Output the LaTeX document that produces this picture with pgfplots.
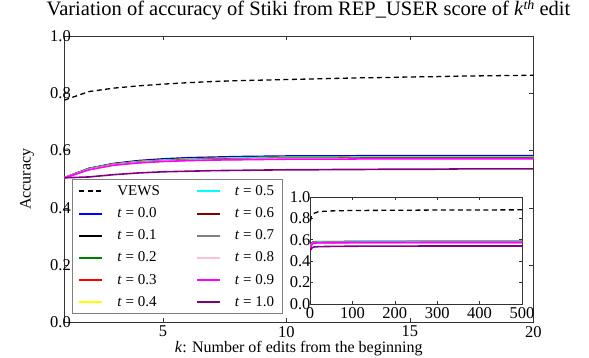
\documentclass[border=0pt]{standalone}
\usepackage{fontspec}
\setmainfont{Liberation Serif}
\usepackage{pgfplots}
\usepackage{pgfplotstable}
\pgfplotsset{compat=1.18}

\definecolor{mblue}{rgb}{0,0,1}
\definecolor{mgreen}{rgb}{0,0.5,0}
\definecolor{mred}{rgb}{1,0,0}
\definecolor{myellow}{rgb}{1,1,0}
\definecolor{mcyan}{rgb}{0,1,1}
\definecolor{mmaroon}{rgb}{0.5,0,0}
\definecolor{mgray}{rgb}{0.5,0.5,0.5}
\definecolor{mpink}{rgb}{1,0.75,0.8}
\definecolor{mmagenta}{rgb}{1,0,1}
\definecolor{mpurple}{rgb}{0.5,0,0.5}

% accuracy for k = 1..20
\pgfplotstableread{
k  vews  ta    tb    tc    td    te    tf    tg    th    ti    tj    tk
1  0.776 0.505 0.505 0.505 0.505 0.505 0.505 0.505 0.505 0.505 0.505 0.505
2  0.806 0.538 0.537 0.537 0.536 0.536 0.536 0.535 0.535 0.534 0.533 0.508
3  0.818 0.555 0.553 0.553 0.553 0.552 0.552 0.551 0.551 0.550 0.549 0.516
4  0.826 0.565 0.563 0.562 0.562 0.561 0.561 0.559 0.559 0.558 0.557 0.522
5  0.832 0.571 0.568 0.567 0.567 0.566 0.566 0.564 0.564 0.563 0.562 0.526
6  0.837 0.575 0.572 0.571 0.571 0.570 0.570 0.568 0.567 0.566 0.565 0.528
7  0.841 0.577 0.574 0.573 0.573 0.572 0.572 0.570 0.569 0.568 0.567 0.530
8  0.844 0.579 0.576 0.575 0.575 0.574 0.574 0.571 0.570 0.569 0.568 0.531
9  0.846 0.580 0.577 0.576 0.576 0.575 0.575 0.572 0.571 0.570 0.569 0.532
10 0.848 0.581 0.578 0.577 0.577 0.576 0.576 0.573 0.572 0.571 0.570 0.533
11 0.850 0.581 0.578 0.577 0.577 0.576 0.576 0.573 0.572 0.571 0.570 0.533
12 0.852 0.581 0.578 0.577 0.577 0.576 0.576 0.573 0.572 0.571 0.570 0.534
13 0.854 0.582 0.579 0.578 0.578 0.577 0.577 0.574 0.573 0.572 0.571 0.534
14 0.855 0.582 0.579 0.578 0.578 0.577 0.577 0.574 0.573 0.572 0.571 0.535
15 0.857 0.582 0.579 0.578 0.578 0.577 0.577 0.574 0.573 0.572 0.571 0.535
16 0.858 0.582 0.579 0.578 0.578 0.577 0.577 0.574 0.573 0.572 0.571 0.535
17 0.860 0.582 0.579 0.578 0.578 0.577 0.577 0.574 0.573 0.572 0.571 0.536
18 0.861 0.582 0.579 0.578 0.578 0.577 0.577 0.574 0.573 0.572 0.571 0.536
19 0.862 0.582 0.579 0.578 0.578 0.577 0.577 0.574 0.573 0.572 0.571 0.536
20 0.863 0.582 0.579 0.578 0.578 0.577 0.577 0.574 0.573 0.572 0.571 0.536
}\maindata

% same, over all 500 edits (inset)
\pgfplotstableread{
k   vews  ta    tb    tc    td    te    tf    tg    th    ti    tj    tk
1   0.776 0.505 0.505 0.505 0.505 0.505 0.505 0.505 0.505 0.505 0.505 0.505
3   0.818 0.555 0.553 0.553 0.553 0.552 0.552 0.551 0.551 0.550 0.549 0.516
6   0.837 0.575 0.572 0.571 0.571 0.570 0.570 0.568 0.567 0.566 0.565 0.528
10  0.848 0.581 0.578 0.577 0.577 0.576 0.576 0.573 0.572 0.571 0.570 0.533
20  0.863 0.582 0.579 0.578 0.578 0.577 0.577 0.574 0.573 0.572 0.571 0.536
50  0.870 0.583 0.580 0.579 0.579 0.578 0.578 0.575 0.574 0.573 0.572 0.538
100 0.874 0.584 0.581 0.580 0.580 0.579 0.579 0.576 0.575 0.574 0.573 0.540
200 0.876 0.584 0.581 0.580 0.580 0.579 0.579 0.576 0.575 0.574 0.573 0.541
300 0.878 0.585 0.582 0.581 0.581 0.580 0.580 0.577 0.576 0.575 0.574 0.542
400 0.879 0.585 0.582 0.581 0.581 0.580 0.580 0.577 0.576 0.575 0.574 0.542
500 0.880 0.585 0.582 0.581 0.581 0.580 0.580 0.577 0.576 0.575 0.574 0.542
}\insetdata

\pgfplotsset{
  mpl/.style={
    scale only axis,
    axis line style={black!80, line width=0.8pt},
    tick align=inside,
    major tick length=4pt,
    tick style={black!80, line width=0.6pt},
    /pgf/number format/assume math mode=true,
    tick label style={font=\fontsize{16.5}{16.5}\selectfont},
    yticklabel style={/pgf/number format/fixed, /pgf/number format/fixed zerofill, /pgf/number format/precision=1},
    xticklabel style={/pgf/number format/fixed},
    ytick={0,0.2,0.4,0.6,0.8,1.0},
    ymin=0, ymax=1,
  },
  vews/.style={black, line width=1.3pt, dash pattern=on 5pt off 3.5pt},
  tl/.style={#1, line width=1.6pt},
}

\begin{document}
\begin{tikzpicture}
\path[use as bounding box] (-64.3pt,-35.5pt) rectangle (524.7pt,322.5pt);
\begin{axis}[mpl,
  at={(0,0)}, anchor=south west,
  width=469pt, height=286.5pt,
  xmin=1, xmax=20,
  xtick={5,10,15,20},
  yticklabel style={xshift=10pt},
  title={Variation of accuracy of Stiki from REP\_USER score of \textit{k}\raisebox{6pt}{\fontsize{14}{14}\selectfont\textit{th}} edit},
  title style={at={(axis description cs:0.5207,1.049)}, anchor=base, font=\fontsize{20.5}{24}\selectfont},
  xlabel={\textit{k}: Number of edits from the beginning},
  xlabel style={at={(axis description cs:0.5,-0.103)}, anchor=base, font=\fontsize{16}{18}\selectfont},
  ylabel={Accuracy},
  ylabel style={at={(axis description cs:-0.0795,0.5)}, anchor=center, font=\fontsize{16}{18}\selectfont},
  legend columns=6,
  transpose legend,
  legend cell align=left,
  legend image code/.code={\draw[#1, line width=2pt] (0pt,0pt) -- (23pt,0pt);},
  legend style={at={(0.0164,0.0297)}, anchor=south west,
    draw=black!50, line width=0.8pt,
    font=\fontsize{15}{18}\selectfont,
    inner xsep=6pt, inner ysep=4pt,
    row sep=6.6pt,
    /tikz/every odd column/.append style={column sep=12pt},
    /tikz/every even column/.append style={column sep=34pt}},
]
\addplot[vews] table[x=k, y=vews]{\maindata};
\addlegendentry{VEWS}
\addplot[tl=mblue]    table[x=k, y=ta]{\maindata}; \addlegendentry{\textit{t} = 0.0}
\addplot[tl=black]    table[x=k, y=tb]{\maindata}; \addlegendentry{\textit{t} = 0.1}
\addplot[tl=mgreen]   table[x=k, y=tc]{\maindata}; \addlegendentry{\textit{t} = 0.2}
\addplot[tl=mred]     table[x=k, y=td]{\maindata}; \addlegendentry{\textit{t} = 0.3}
\addplot[tl=myellow]  table[x=k, y=te]{\maindata}; \addlegendentry{\textit{t} = 0.4}
\addplot[tl=mcyan]    table[x=k, y=tf]{\maindata}; \addlegendentry{\textit{t} = 0.5}
\addplot[tl=mmaroon]  table[x=k, y=tg]{\maindata}; \addlegendentry{\textit{t} = 0.6}
\addplot[tl=mgray]    table[x=k, y=th]{\maindata}; \addlegendentry{\textit{t} = 0.7}
\addplot[tl=mpink]    table[x=k, y=ti]{\maindata}; \addlegendentry{\textit{t} = 0.8}
\addplot[tl=mmagenta] table[x=k, y=tj]{\maindata}; \addlegendentry{\textit{t} = 0.9}
\addplot[tl=mpurple]  table[x=k, y=tk]{\maindata}; \addlegendentry{\textit{t} = 1.0}
\end{axis}

\begin{axis}[mpl,
  at={(245.7pt,18.5pt)}, anchor=south west,
  width=212pt, height=107pt,
  xmin=0, xmax=500,
  xtick={0,100,200,300,400,500},
  yticklabel style={xshift=4pt},
  major tick length=3pt,
  axis background/.style={fill=white},
]
\addplot[vews] table[x=k, y=vews]{\insetdata};
\addplot[tl=mblue]    table[x=k, y=ta]{\insetdata};
\addplot[tl=black]    table[x=k, y=tb]{\insetdata};
\addplot[tl=mgreen]   table[x=k, y=tc]{\insetdata};
\addplot[tl=mred]     table[x=k, y=td]{\insetdata};
\addplot[tl=myellow]  table[x=k, y=te]{\insetdata};
\addplot[tl=mcyan]    table[x=k, y=tf]{\insetdata};
\addplot[tl=mmaroon]  table[x=k, y=tg]{\insetdata};
\addplot[tl=mgray]    table[x=k, y=th]{\insetdata};
\addplot[tl=mpink]    table[x=k, y=ti]{\insetdata};
\addplot[tl=mmagenta] table[x=k, y=tj]{\insetdata};
\addplot[tl=mpurple]  table[x=k, y=tk]{\insetdata};
\end{axis}
\end{tikzpicture}
\end{document}
